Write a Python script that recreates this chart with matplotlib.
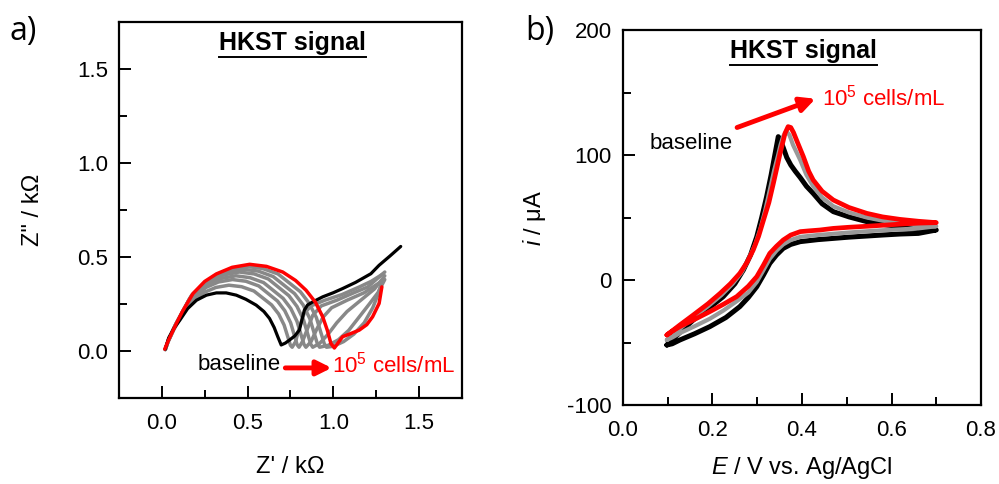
import matplotlib
matplotlib.use('Agg')
import matplotlib.pyplot as plt
from matplotlib.ticker import MultipleLocator, FormatStrFormatter

plt.rcParams['font.family'] = ['Liberation Sans', 'DejaVu Sans']
plt.rcParams['mathtext.fontset'] = 'custom'
plt.rcParams['mathtext.rm'] = 'Liberation Sans'
plt.rcParams['mathtext.it'] = 'Liberation Sans:italic'
plt.rcParams['axes.unicode_minus'] = False

# ---- panel a: Nyquist plots (kOhm) ----
base_zre = [0.02, 0.04, 0.07, 0.105, 0.15, 0.202, 0.26, 0.318, 0.375, 0.434, 0.49, 0.55, 0.595,
            0.628, 0.655, 0.676, 0.696, 0.72, 0.744, 0.775, 0.802, 0.818, 0.831, 0.85, 0.88,
            0.938, 1.0, 1.054, 1.13, 1.219, 1.267, 1.33, 1.393]
base_zim = [0.01, 0.07, 0.12, 0.164, 0.225, 0.27, 0.297, 0.309, 0.309, 0.297, 0.275, 0.244, 0.21,
            0.173, 0.125, 0.076, 0.032, 0.042, 0.058, 0.08, 0.111, 0.17, 0.217, 0.245, 0.261,
            0.288, 0.31, 0.332, 0.365, 0.411, 0.456, 0.505, 0.556]

cells_zre = [0.017, 0.04, 0.085, 0.12, 0.182, 0.25, 0.318, 0.41, 0.512, 0.61, 0.705, 0.78,
             0.841, 0.895, 0.938, 0.965, 0.986, 1.006, 1.054, 1.10, 1.151, 1.195, 1.229, 1.267,
             1.283]
cells_zim = [0.01, 0.06, 0.147, 0.21, 0.306, 0.37, 0.41, 0.445, 0.461, 0.45, 0.42, 0.375,
             0.323, 0.26, 0.182, 0.11, 0.04, 0.016, 0.076, 0.092, 0.111, 0.14, 0.182, 0.253,
             0.341]

gray_zre = [
    [0.02, 0.035, 0.069, 0.142, 0.245, 0.315, 0.391, 0.465, 0.537, 0.640, 0.681, 0.713, 0.750,
     0.76, 0.78, 0.80, 0.83, 0.87, 0.95, 1.05, 1.15, 1.22, 1.29],
    [0.02, 0.036, 0.071, 0.149, 0.257, 0.330, 0.412, 0.490, 0.565, 0.674, 0.717, 0.751, 0.789,
     0.80, 0.82, 0.85, 0.88, 0.93, 1.02, 1.12, 1.20, 1.30],
    [0.02, 0.036, 0.074, 0.155, 0.269, 0.346, 0.432, 0.514, 0.593, 0.707, 0.752, 0.788, 0.829,
     0.84, 0.87, 0.90, 0.94, 0.99, 1.08, 1.18, 1.28],
    [0.02, 0.037, 0.077, 0.162, 0.281, 0.362, 0.452, 0.538, 0.621, 0.741, 0.788, 0.826, 0.868,
     0.88, 0.92, 0.97, 1.02, 1.08, 1.16, 1.24, 1.30],
    [0.02, 0.038, 0.079, 0.169, 0.294, 0.378, 0.472, 0.562, 0.649, 0.774, 0.824, 0.863, 0.907,
     0.92, 0.97, 1.03, 1.09, 1.15, 1.21, 1.26, 1.30],
    [0.02, 0.039, 0.082, 0.175, 0.306, 0.394, 0.492, 0.586, 0.677, 0.808, 0.859, 0.901, 0.947,
     0.96, 1.00, 1.06, 1.12, 1.18, 1.23, 1.26, 1.28],
]
gray_zim = [
    [0.007, 0.046, 0.112, 0.232, 0.311, 0.338, 0.35, 0.342, 0.319, 0.245, 0.197, 0.138, 0.030,
     0.02, 0.05, 0.12, 0.20, 0.24, 0.27, 0.30, 0.34, 0.37, 0.41],
    [0.008, 0.049, 0.121, 0.252, 0.338, 0.367, 0.38, 0.371, 0.346, 0.266, 0.214, 0.150, 0.033,
     0.02, 0.05, 0.12, 0.19, 0.24, 0.27, 0.31, 0.34, 0.42],
    [0.008, 0.052, 0.128, 0.266, 0.356, 0.386, 0.40, 0.390, 0.364, 0.28, 0.226, 0.158, 0.035,
     0.02, 0.05, 0.11, 0.18, 0.23, 0.27, 0.31, 0.37],
    [0.008, 0.055, 0.134, 0.279, 0.373, 0.405, 0.42, 0.410, 0.383, 0.294, 0.237, 0.166, 0.037,
     0.02, 0.04, 0.09, 0.15, 0.21, 0.27, 0.33, 0.40],
    [0.009, 0.057, 0.139, 0.289, 0.387, 0.420, 0.435, 0.425, 0.396, 0.305, 0.245, 0.172, 0.038,
     0.02, 0.03, 0.06, 0.11, 0.18, 0.25, 0.31, 0.38],
    [0.009, 0.059, 0.144, 0.299, 0.40, 0.434, 0.45, 0.439, 0.41, 0.315, 0.254, 0.178, 0.039,
     0.02, 0.025, 0.05, 0.09, 0.15, 0.23, 0.30, 0.36],
]

# ---- panel b: cyclic voltammograms (V, uA) ----
base_E = [0.098, 0.127, 0.157, 0.19, 0.224, 0.25, 0.269, 0.285, 0.299, 0.31, 0.321, 0.331,
          0.34, 0.347, 0.352, 0.358, 0.366, 0.375, 0.385, 0.396, 0.41, 0.425, 0.445, 0.47,
          0.505, 0.545, 0.58, 0.619, 0.66, 0.70,
          0.66, 0.619, 0.58, 0.545, 0.505, 0.47, 0.435, 0.396, 0.375, 0.358, 0.343, 0.328,
          0.314, 0.299, 0.28, 0.261, 0.23, 0.194, 0.16, 0.127, 0.11, 0.098]
base_i = [-52, -42, -32, -23, -13.3, -3, 8, 20, 34.7, 50, 66.7, 84,
          101.3, 114.7, 112, 106, 98, 92, 87, 82, 75, 69.3, 61, 54.7,
          50.5, 46.7, 44.5, 42.7, 41.2, 40,
          37.3, 36.8, 36, 35.2, 34.3, 33.3, 32.3, 30.7, 28.5, 25.3, 20, 13.3,
          4, -5.3, -14, -21.3, -30, -37.3, -43, -48, -51, -52]

gray_E = [0.098, 0.127, 0.157, 0.19, 0.22, 0.245, 0.265, 0.28, 0.295, 0.307, 0.318, 0.328,
          0.338, 0.346, 0.352, 0.358, 0.365, 0.372, 0.38, 0.396, 0.41, 0.425, 0.445, 0.47,
          0.505, 0.545, 0.58, 0.619, 0.66, 0.70,
          0.66, 0.619, 0.58, 0.545, 0.505, 0.47, 0.435, 0.396, 0.375, 0.358, 0.343, 0.328,
          0.314, 0.299, 0.28, 0.254, 0.224, 0.194, 0.16, 0.127, 0.11, 0.098]
gray_i = [-48, -39, -30, -21, -12, -3, 6, 16, 28, 41, 56, 72,
          88, 99, 108, 115, 119, 116, 108, 96, 84, 75, 66, 59,
          54, 50, 47.5, 45.5, 44, 43,
          41.3, 40.5, 39.8, 39, 38, 37, 36, 34.5, 32, 28.5, 23.5, 17,
          8, -1.5, -10, -17, -24.5, -31, -37, -42.5, -46, -48]

cells_E = [0.098, 0.127, 0.157, 0.19, 0.217, 0.24, 0.261, 0.277, 0.291, 0.303, 0.314, 0.326,
           0.336, 0.344, 0.351, 0.357, 0.362, 0.369, 0.375, 0.381, 0.39, 0.403, 0.415, 0.425,
           0.445, 0.47, 0.505, 0.545, 0.58, 0.619, 0.66, 0.70,
           0.66, 0.619, 0.58, 0.545, 0.505, 0.47, 0.44, 0.415, 0.396, 0.375, 0.358, 0.343,
           0.328, 0.314, 0.299, 0.28, 0.254, 0.224, 0.194, 0.16, 0.127, 0.11, 0.098]
cells_i = [-44, -36, -28, -19, -10.7, -3, 5.3, 14, 24, 35, 48, 62,
           77.3, 90, 101.3, 110, 117.3, 122.7, 122, 118, 110, 98.7, 87, 80,
           71, 64, 58, 53.3, 50.5, 48.5, 47, 45.9,
           45.5, 44.7, 43.8, 43, 42.2, 41.3, 40, 39.3, 38.7, 36, 32, 27,
           21.3, 12, 2.7, -5, -13.3, -19.5, -25.3, -31.5, -37.3, -41, -44]

fig = plt.figure(figsize=(9.99, 4.84), dpi=100)
axa = fig.add_axes([0.1191, 0.1777, 0.3433, 0.7769])
axb = fig.add_axes([0.6236, 0.1632, 0.3584, 0.7748])

for zr, zi in zip(gray_zre, gray_zim):
    axa.plot(zr, zi, color='#888888', lw=2.5, solid_joinstyle='round', solid_capstyle='round')
axa.plot(base_zre, base_zim, color='black', lw=2.3, solid_joinstyle='round', solid_capstyle='round')
axa.plot(cells_zre, cells_zim, color='red', lw=2.5, solid_joinstyle='round', solid_capstyle='round')

axb.plot(base_E, base_i, color='black', lw=3.6, solid_joinstyle='round', solid_capstyle='round')
axb.plot(gray_E, gray_i, color='#999999', lw=3.0, solid_joinstyle='round', solid_capstyle='round')
axb.plot(cells_E, cells_i, color='red', lw=3.4, solid_joinstyle='round', solid_capstyle='round')

axa.set_xlim(-0.25, 1.75)
axa.set_ylim(-0.25, 1.75)
axa.xaxis.set_minor_locator(MultipleLocator(0.25))
axa.yaxis.set_minor_locator(MultipleLocator(0.25))
axa.set_xticks([0, 0.5, 1.0, 1.5])
axa.set_yticks([0, 0.5, 1.0, 1.5])
axa.xaxis.set_major_formatter(FormatStrFormatter('%.1f'))
axa.yaxis.set_major_formatter(FormatStrFormatter('%.1f'))

axb.set_xlim(0, 0.8)
axb.set_ylim(-100, 200)
axb.xaxis.set_major_locator(MultipleLocator(0.2))
axb.xaxis.set_minor_locator(MultipleLocator(0.1))
axb.yaxis.set_major_locator(MultipleLocator(100))
axb.yaxis.set_minor_locator(MultipleLocator(50))
axb.xaxis.set_major_formatter(FormatStrFormatter('%.1f'))

for ax in (axa, axb):
    for s in ax.spines.values():
        s.set_linewidth(1.6)
    ax.tick_params(which='both', direction='in', width=1.4, labelsize=16)
    ax.tick_params(which='major', length=8.5)
    ax.tick_params(which='minor', length=5.5)
    ax.tick_params(axis='y', pad=8)
    ax.tick_params(axis='x', pad=11)

axa.set_xlabel("Z' / k\u03a9", fontsize=17, labelpad=16)
axa.set_ylabel('Z" / k\u03a9', fontsize=17, labelpad=24)
axb.set_xlabel('$\\it{E}$ / V vs. Ag/AgCl', fontsize=17, labelpad=10)
axb.set_ylabel('$\\it{i}$ / \u03bcA', fontsize=17, labelpad=14)

fig.text(0.010, 0.935, 'a)', fontsize=23, family=['Open Sans', 'DejaVu Sans'], va='center')
fig.text(0.526, 0.935, 'b)', fontsize=23, family=['Open Sans', 'DejaVu Sans'], va='center')

titles = []
for ax in (axa, axb):
    t = ax.text(0.505, 0.945, 'HKST signal', transform=ax.transAxes, ha='center', va='center',
                fontsize=18, fontweight='bold')
    titles.append((ax, t))

# panel a annotation
axa.text(0.448, -0.074, 'baseline', ha='center', va='center', fontsize=16)
axa.annotate('', xy=(0.99, -0.09), xytext=(0.72, -0.09),
             arrowprops=dict(arrowstyle='-|>', color='red', lw=3.5, mutation_scale=22,
                             shrinkA=0, shrinkB=0))
axa.text(0.995, -0.074, '10$^{5}$ cells/mL', ha='left', va='center', fontsize=16, color='red')

# panel b annotation
axb.text(0.153, 109, 'baseline', ha='center', va='center', fontsize=16)
axb.annotate('', xy=(0.43, 145), xytext=(0.255, 122),
             arrowprops=dict(arrowstyle='-|>', color='red', lw=3.5, mutation_scale=22,
                             shrinkA=0, shrinkB=0))
axb.text(0.445, 146, '10$^{5}$ cells/mL', ha='left', va='center', fontsize=16, color='red')

# underline the titles
fig.canvas.draw()
r = fig.canvas.get_renderer()
for ax, t in titles:
    bb = t.get_window_extent(renderer=r).transformed(ax.transAxes.inverted())
    ax.plot([bb.x0, bb.x1], [bb.y0 - 0.006, bb.y0 - 0.006], transform=ax.transAxes,
            color='black', lw=1.4, clip_on=False)

fig.savefig('out.png', dpi=100)
